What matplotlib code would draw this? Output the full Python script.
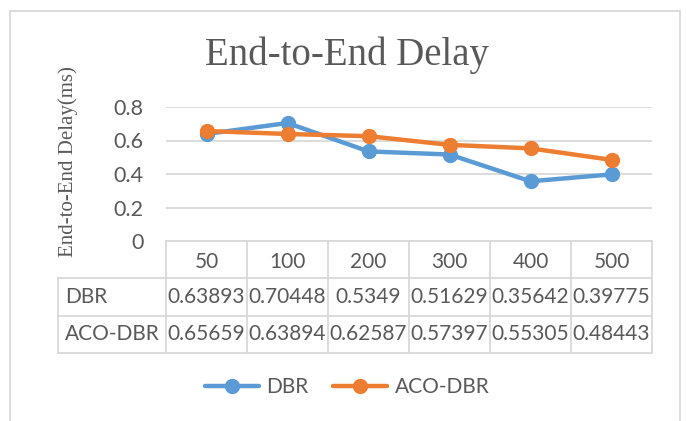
import matplotlib.pyplot as plt
from matplotlib.patches import Rectangle

# data
categories = ['50', '100', '200', '300', '400', '500']
dbr = [0.63893, 0.70448, 0.5349, 0.51629, 0.35642, 0.39775]
aco_dbr = [0.65659, 0.63894, 0.62587, 0.57397, 0.55305, 0.48443]
dbr_text = ['0.63893', '0.70448', '0.5349', '0.51629', '0.35642', '0.39775']
aco_text = ['0.65659', '0.63894', '0.62587', '0.57397', '0.55305', '0.48443']
yticks = [0, 0.2, 0.4, 0.6, 0.8]

W, H = 686, 421
txt = '#595959'
grid = '#d9d9d9'
blue = '#5B9BD5'
orange = '#ED7D31'
sans = 'Lato'
serif = 'Liberation Serif'

fig = plt.figure(figsize=(W / 100, H / 100), dpi=100)

# chart border
fig.patches.append(Rectangle((10 / W, -0.1), 670 / W, 1.1 - 11 / H,
                             transform=fig.transFigure, fill=False,
                             edgecolor=grid, linewidth=1.3))

# plot area in pixel positions
left, right, top, bottom = 166, 652, 107, 241
ax = fig.add_axes([left / W, 1 - bottom / H, (right - left) / W, (bottom - top) / H])
x = list(range(len(categories)))
ax.plot(x, dbr, color=blue, linewidth=3.2, marker='o', markersize=10,
        clip_on=False, zorder=3, label='DBR', solid_capstyle='round')
ax.plot(x, aco_dbr, color=orange, linewidth=3.2, marker='o', markersize=10,
        clip_on=False, zorder=4, label='ACO-DBR', solid_capstyle='round')
ax.set_xlim(-0.5, len(categories) - 0.5)
ax.set_ylim(0, 0.8)
ax.set_yticks(yticks)
ax.set_yticklabels(['0', '0.2', '0.4', '0.6', '0.8'])
ax.yaxis.grid(True, color=grid, linewidth=1.3)
ax.set_axisbelow(True)
ax.set_xticks([])
for s in ax.spines.values():
    s.set_visible(False)
ax.tick_params(axis='y', length=0, pad=16, labelsize=15.5, labelcolor=txt)
for lab in ax.get_yticklabels():
    lab.set_fontfamily(sans)

# data table below the plot
tab_top, tab_bot = 241, 353
tax = fig.add_axes([left / W, 1 - tab_bot / H, (right - left) / W, (tab_bot - tab_top) / H],
                   sharex=ax)
tax.set_ylim(3, 0)
tax.axis('off')
label_left = -0.5 - (left - 58) / 81.0
rows = [('DBR', dbr_text), ('ACO-DBR', aco_text)]
line_kw = dict(color=grid, linewidth=1.3, clip_on=False)
# horizontal lines
tax.plot([-0.5, 5.5], [0, 0], **line_kw)
for r in range(1, 4):
    tax.plot([label_left, 5.5], [r, r], **line_kw)
# vertical lines
for c in range(len(categories) + 1):
    tax.plot([c - 0.5, c - 0.5], [0, 3], **line_kw)
tax.plot([label_left, label_left], [1, 3], **line_kw)
for i, c in enumerate(categories):
    tax.text(i, 0.55, c, ha='center', va='center', fontsize=15,
             color=txt, family=sans)
for r, (name, vals) in enumerate(rows, start=1):
    tax.text(label_left + 0.09, r + 0.5, name, ha='left', va='center',
             fontsize=15, color=txt, family=sans)
    for i, v in enumerate(vals):
        tax.text(i, r + 0.5, v, ha='center', va='center', fontsize=15,
                 color=txt, family=sans)

# titles
fig.text(347 / W, 1 - 55 / H, 'End-to-End Delay', ha='center', va='center',
         fontsize=28, color=txt, family=serif)
fig.text(68 / W, 1 - 162 / H, 'End-to-End Delay(ms)', ha='center', va='center',
         rotation=90, fontsize=15, color=txt, family=serif)

leg = fig.legend(loc='center', bbox_to_anchor=(347 / W, 1 - 387 / H), ncol=2,
                 frameon=False, handlelength=2.6, handletextpad=0.35,
                 columnspacing=1.2, prop={'family': sans, 'size': 15})
for t in leg.get_texts():
    t.set_color(txt)

fig.savefig('out.png', dpi=100)
